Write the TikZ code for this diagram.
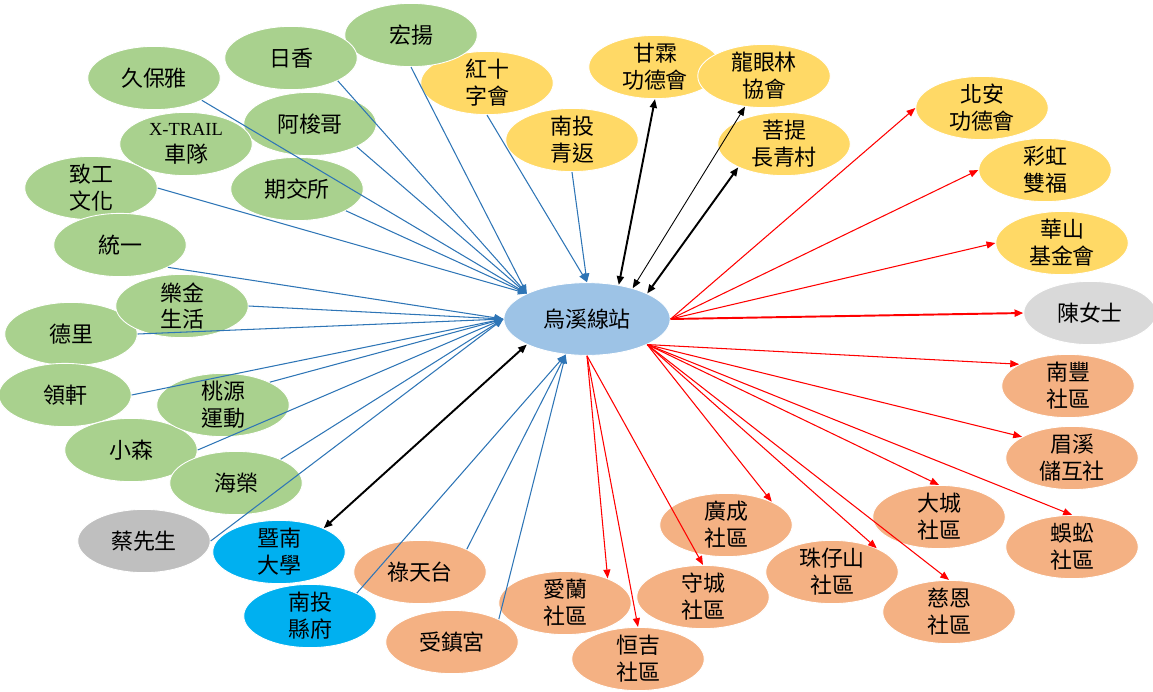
\documentclass[tikz,border=0pt]{standalone}
\usepackage{fontspec}
\setmainfont{Liberation Serif}
\newfontfamily\cjk{Noto Sans CJK TC}
\usetikzlibrary{shapes.geometric,arrows.meta}
\definecolor{leafgreen}{HTML}{A9D18E}
\definecolor{sungold}{HTML}{FFD966}
\definecolor{peach}{HTML}{F4B183}
\definecolor{skyblue}{HTML}{9DC3E6}
\definecolor{cyanblue}{HTML}{00B0F0}
\definecolor{midgray}{HTML}{BFBFBF}
\definecolor{palegray}{HTML}{D9D9D9}
\definecolor{linkblue}{HTML}{2E75B6}
\begin{document}
\begin{tikzpicture}[x=0.02cm, y=-0.02cm,
    blob/.style={ellipse, draw=white, line width=0.5pt, inner sep=-2pt,
        minimum width=75.4pt, minimum height=36pt, align=center,
        font=\cjk\fontsize{12.5}{15.3}\selectfont},
    gblob/.style={blob, fill=leafgreen},
    yblob/.style={blob, fill=sungold},
    oblob/.style={blob, fill=peach},
    cblob/.style={blob, fill=cyanblue},
    sblob/.style={blob, fill=midgray},
    hub/.style={blob, fill=skyblue, minimum width=94.7pt, minimum height=41.4pt},
    inarrow/.style={linkblue, line width=0.6pt, -{Triangle[length=5pt,width=4pt]}},
    outarrow/.style={red, line width=0.6pt, -{Triangle[length=5pt,width=4pt]}},
    twoway/.style={black, line width=1.1pt, {Triangle[length=5pt,width=4pt]}-{Triangle[length=5pt,width=4pt]}}]
    \useasboundingbox (0,0) rectangle (1153,691);
    % Soci arancio (comunita)
    \node[oblob] (nanfeng) at (1068,386) {南豐\\社區};
    \node[oblob] (meixi) at (1072,458) {眉溪\\儲互社};
    \node[oblob] (dacheng) at (939,517) {大城\\社區};
    \node[oblob] (wugong) at (1072,547) {蜈蚣\\社區};
    \node[oblob] (guangcheng) at (726,525) {廣成\\社區};
    \node[oblob] (zhuzaishan) at (832,572) {珠仔山\\社區};
    \node[oblob] (cien) at (949,612) {慈恩\\社區};
    \node[oblob] (shoucheng) at (703,597) {守城\\社區};
    \node[oblob] (ailan) at (565,603) {愛蘭\\社區};
    \node[oblob] (hengji) at (638,659) {恒吉\\社區};
    \node[oblob] (lutiantai) at (420,572) {祿天台};
    \node[oblob] (shouzhen) at (452,642) {受鎮宮};
    % Soci gialli
    \node[yblob] (hongshi) at (487,83) {紅十\\字會};
    \node[yblob] (qingfan) at (572,140) {南投\\青返};
    \node[yblob] (ganlin) at (655,67) {甘霖\\功德會};
    \node[yblob] (longyan) at (764,76) {龍眼林\\協會};
    \node[yblob] (puti) at (784,144) {菩提\\長青村};
    \node[yblob] (beian) at (982,108) {北安\\功德會};
    \node[yblob] (caihong) at (1045,170) {彩虹\\雙福};
    \node[yblob] (huashan) at (1062,243) {華山\\基金會};
    % Privati e enti pubblici
    \node[blob, fill=palegray] (chen) at (1090,313) {陳女士};
    \node[sblob] (cai) at (144,541) {蔡先生};
    \node[cblob] (jinan) at (279,552) {暨南\\大學};
    \node[cblob] (xianfu) at (310,616) {南投\\縣府};
    % Soci verdi (aziende)
    \node[gblob] (hongyang) at (411,35) {宏揚};
    \node[gblob] (rixiang) at (291,58) {日香};
    \node[gblob] (jiubaoya) at (154,78) {久保雅};
    \node[gblob] (asuoge) at (310,124) {阿梭哥};
    \node[gblob] (xtrail) at (186,144) {{\rmfamily\fontsize{10.5}{15.3}\selectfont X-TRAIL}\\車隊};
    \node[gblob] (qijiao) at (297,189) {期交所};
    \node[gblob] (zhigong) at (91,188) {致工\\文化};
    \node[gblob] (tongyi) at (120,245) {統一};
    \node[gblob] (deli) at (71,334) {德里};
    \node[gblob] (lejin) at (182,306) {樂金\\生活};
    \node[gblob] (lingxuan) at (65,395) {領軒};
    \node[gblob] (xiaosen) at (131,450) {小森};
    \node[gblob] (taoyuan) at (223,405) {桃源\\運動};
    \node[gblob] (hairong) at (236,483) {海榮};
    % Nodo centrale
    \node[hub] (wuxi) at (587,319) {烏溪線站};
    % Frecce blu verso il centro
    \foreach \src/\a in {hongyang/south, rixiang/-26, jiubaoya/-25, asuoge/-26, qijiao/-24, zhigong/east}
        \draw[inarrow] (\src.\a) -- (wuxi.157);
    \foreach \src/\a in {tongyi/-25, lejin/east, deli/east, lingxuan/east, taoyuan/26, xiaosen/east, hairong/28, cai/east}
        \draw[inarrow] (\src.\a) -- (wuxi.west);
    \foreach \src in {hongshi, qingfan}
        \draw[inarrow] (\src.south) -- (wuxi.north);
    \foreach \src in {xianfu, lutiantai, shouzhen}
        \draw[inarrow] (\src.26) -- (wuxi.-121);
    % Frecce nere doppie
    \draw[twoway] (ganlin.south) -- (wuxi.47);
    \draw[twoway, line width=0.5pt] (longyan) -- (wuxi.34);
    \draw[twoway] (puti.-153) -- (wuxi.23);
    \draw[twoway] (jinan.28) -- (wuxi.-157);
    % Frecce rosse verso l'esterno
    \foreach \dst in {beian, caihong, huashan}
        \draw[outarrow] (wuxi.east) -- (\dst.west);
    \draw[outarrow, line width=1.1pt] (wuxi.east) -- (chen.west);
    \foreach \dst/\a in {nanfeng/156, meixi/157, dacheng/north, wugong/north, guangcheng/27, zhuzaishan/28, cien/north}
        \draw[outarrow] (wuxi.-23) -- (\dst.\a);
    \foreach \dst/\a in {shoucheng/north, ailan/30, hengji/north}
        \draw[outarrow] (wuxi.-90) -- (\dst.\a);
\end{tikzpicture}
\end{document}
